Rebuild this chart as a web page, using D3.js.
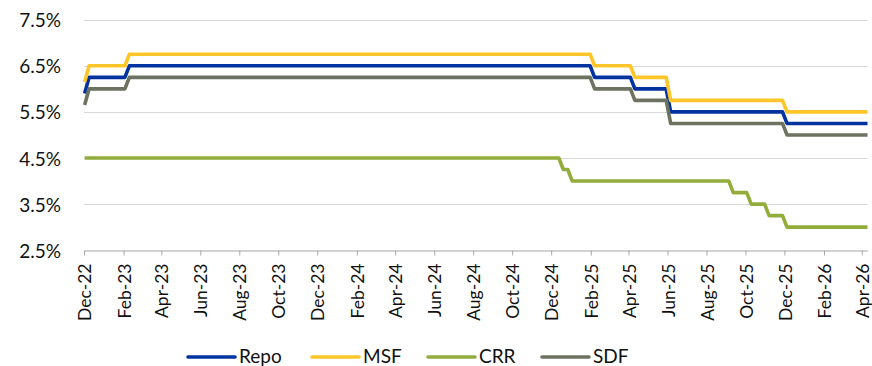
<!DOCTYPE html>
<html>
<head>
<meta charset="utf-8">
<script src="https://cdn.jsdelivr.net/npm/d3@7/dist/d3.min.js"></script>
<style>
  html, body { margin: 0; padding: 0; background: #fff; }
  svg { display: block; }
  text { font-family: Lato, "Open Sans", sans-serif; fill: #111; }
</style>
</head>
<body>
<svg id="chart" width="872" height="366"></svg>
<script>
// ---- Data ----
const seriesNames = ["Repo", "MSF", "CRR", "SDF"];
const seriesColors = ["#0033A0", "#FFC629", "#93AD3C", "#6D7360"];

const repoData = [
  ["2022-12-02", 5.90], ["2022-12-09", 6.25], ["2023-02-03", 6.25], ["2023-02-10", 6.50],
  ["2025-01-31", 6.50], ["2025-02-07", 6.25], ["2025-04-04", 6.25], ["2025-04-11", 6.00],
  ["2025-05-30", 6.00], ["2025-06-06", 5.50], ["2025-11-28", 5.50], ["2025-12-05", 5.25],
  ["2026-04-10", 5.25]
];
const msfData = [
  ["2022-12-02", 6.15], ["2022-12-09", 6.50], ["2023-02-03", 6.50], ["2023-02-10", 6.75],
  ["2025-01-31", 6.75], ["2025-02-07", 6.50], ["2025-04-04", 6.50], ["2025-04-11", 6.25],
  ["2025-05-30", 6.25], ["2025-06-06", 5.75], ["2025-11-28", 5.75], ["2025-12-05", 5.50],
  ["2026-04-10", 5.50]
];
const crrData = [
  ["2022-12-02", 4.50], ["2024-12-13", 4.50], ["2024-12-20", 4.25], ["2024-12-27", 4.25],
  ["2025-01-03", 4.00], ["2025-09-05", 4.00], ["2025-09-12", 3.75], ["2025-10-03", 3.75],
  ["2025-10-10", 3.50], ["2025-10-31", 3.50], ["2025-11-07", 3.25], ["2025-11-28", 3.25],
  ["2025-12-05", 3.00], ["2026-04-10", 3.00]
];
const sdfData = [
  ["2022-12-02", 5.65], ["2022-12-09", 6.00], ["2023-02-03", 6.00], ["2023-02-10", 6.25],
  ["2025-01-31", 6.25], ["2025-02-07", 6.00], ["2025-04-04", 6.00], ["2025-04-11", 5.75],
  ["2025-05-30", 5.75], ["2025-06-06", 5.25], ["2025-11-28", 5.25], ["2025-12-05", 5.00],
  ["2026-04-10", 5.00]
];
const xTickLabels = ["Dec-22","Feb-23","Apr-23","Jun-23","Aug-23","Oct-23","Dec-23","Feb-24",
  "Apr-24","Jun-24","Aug-24","Oct-24","Dec-24","Feb-25","Apr-25","Jun-25","Aug-25","Oct-25",
  "Dec-25","Feb-26","Apr-26"];
const yTicks = [2.5, 3.5, 4.5, 5.5, 6.5, 7.5];
const xDomain = ["2022-12-01", "2026-04-10"];

// ---- Chart ----
const parseDate = d3.timeParse("%Y-%m-%d");
const parseTick = d3.timeParse("%b-%y");
const svg = d3.select("#chart");

const mLeft = 84, mRight = 867.5, mTop = 19.7, mBottom = 250.2;
const x = d3.scaleTime().domain(xDomain.map(parseDate)).range([mLeft, mRight]);
const y = d3.scaleLinear().domain([2.5, 7.5]).range([mBottom, mTop]);

// gridlines
svg.append("g").selectAll("line")
  .data(yTicks.filter(v => v > 2.5))
  .join("line")
  .attr("x1", mLeft).attr("x2", mRight)
  .attr("y1", d => Math.round(y(d)) + 0.5).attr("y2", d => Math.round(y(d)) + 0.5)
  .attr("stroke", "#d9d9d9").attr("stroke-width", 1);

// y labels
svg.append("g").selectAll("text")
  .data(yTicks)
  .join("text")
  .attr("x", 61).attr("y", d => y(d))
  .attr("text-anchor", "end").attr("dominant-baseline", "central")
  .style("font-size", "19px")
  .text(d => d3.format(".1f")(d) + "%");

// x axis
const tickDates = xTickLabels.map(parseTick);
const xAxis = d3.axisBottom(x)
  .tickValues(tickDates)
  .tickSize(5)
  .tickSizeOuter(0)
  .tickFormat((d, i) => xTickLabels[i]);
const gx = svg.append("g")
  .attr("transform", `translate(0,${Math.round(mBottom) + 0.5})`)
  .call(xAxis);
gx.select(".domain").attr("stroke", "#a6a6a6").attr("stroke-width", 1);
gx.selectAll(".tick line").attr("stroke", "#a6a6a6");
gx.selectAll(".tick text")
  .attr("transform", "rotate(-90)")
  .attr("x", -13).attr("y", 0.5)
  .attr("dy", "0.35em")
  .attr("text-anchor", "end")
  .style("font-size", "17.5px")
  .style("font-family", "Lato, sans-serif")
  .attr("fill", "#111");

// lines
const allSeries = [repoData, msfData, crrData, sdfData];
const line = d3.line()
  .x(d => x(parseDate(d[0])))
  .y(d => y(d[1]));
svg.append("g").selectAll("path")
  .data(allSeries)
  .join("path")
  .attr("d", d => line(d))
  .attr("fill", "none")
  .attr("stroke", (d, i) => seriesColors[i])
  .attr("stroke-width", 3.6)
  .attr("stroke-linejoin", "round");

// legend
const legendX = [188, 312, 428, 542];
const lg = svg.append("g").selectAll("g")
  .data(seriesNames)
  .join("g")
  .attr("transform", (d, i) => `translate(${legendX[i]},357)`);
lg.append("line")
  .attr("x1", 0).attr("x2", 47).attr("y1", 0).attr("y2", 0)
  .attr("stroke", (d, i) => seriesColors[i])
  .attr("stroke-width", 3.6)
  .attr("stroke-linecap", "round");
lg.append("text")
  .attr("x", 51).attr("y", 6)
  .style("font-size", "19px")
  .text(d => d);
</script>
</body>
</html>
